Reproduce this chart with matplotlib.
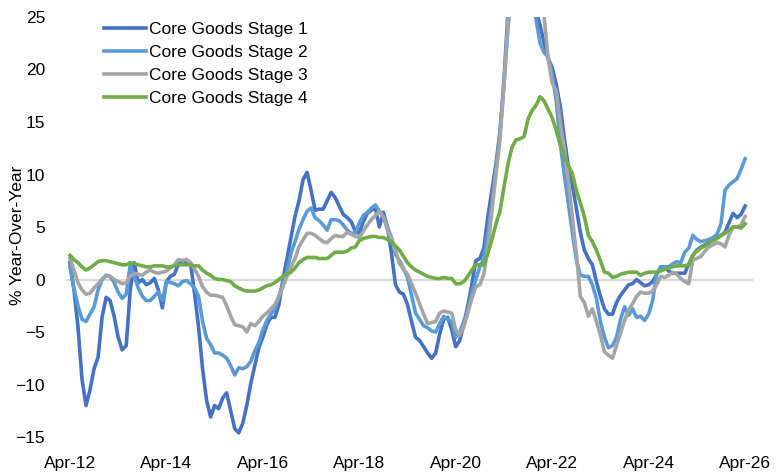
import matplotlib
matplotlib.use("Agg")
import matplotlib.pyplot as plt
import numpy as np

# monthly, Apr-12 .. Apr-26 (% y/y)
stage1 = [1.6, -1.0, -4.5, -9.5, -12.0, -10.5, -8.5, -7.4, -3.6, -1.7,
          -2.0, -3.5, -5.5, -6.7, -6.3, -1.0, 1.6, -0.3, 0.0, -0.5,
          -0.3, 0.1, -1.0, -2.7, -0.2, 0.3, 0.5, 1.5, 1.8, 1.7,
          1.6, -1.3, -4.5, -8.5, -11.5, -13.1, -12.0, -12.3, -11.3, -10.8,
          -12.5, -14.2, -14.6, -13.7, -12.0, -9.9, -8.2, -6.5, -5.5, -4.3,
          -3.6, -3.6, -2.4, 0.0, 2.0, 4.0, 6.0, 7.5, 9.5, 10.2,
          8.5, 6.6, 6.7, 6.7, 7.5, 8.3, 7.8, 7.0, 6.2, 5.9,
          5.5, 4.6, 4.4, 5.5, 6.3, 6.6, 6.8, 5.0, 6.4, 5.0,
          2.5, -0.5, -1.2, -1.4, -2.4, -4.0, -5.5, -5.8, -6.4, -7.0,
          -7.5, -7.0, -5.2, -3.8, -3.6, -4.8, -6.4, -5.8, -4.3, -2.5,
          -0.5, 1.8, 2.0, 3.0, 6.0, 8.5, 11.0, 14.0, 19.0, 25.5,
          29.0, 32.0, 34.0, 33.0, 31.0, 28.0, 25.5, 24.2, 22.5, 21.0,
          20.2, 18.6, 16.5, 13.5, 10.8, 9.0, 6.8, 4.5, 2.8, 2.0,
          1.4, -0.2, -1.6, -2.8, -3.3, -3.3, -2.2, -1.5, -1.0, -0.5,
          -0.4, 0.0, -0.3, -0.6, -0.5, -0.2, 0.5, 1.2, 1.2, 0.8,
          0.6, 0.6, 0.6, 0.6, 1.5, 2.3, 2.8, 3.1, 3.3, 3.5,
          3.9, 4.1, 4.2, 4.5, 5.4, 6.3, 5.9, 6.2, 7.0]

stage2 = [1.2, -0.8, -2.5, -3.8, -4.0, -3.3, -2.6, -1.0, 0.0, 0.4,
          0.3, -0.3, -1.2, -1.8, -1.4, 1.4, 0.3, -0.8, -1.6, -2.0,
          -2.0, -1.6, -1.2, -2.0, -0.2, -0.3, -0.4, -0.6, -0.2, -0.1,
          -0.4, -0.8, -1.6, -4.0, -5.6, -6.2, -7.0, -7.0, -7.2, -7.5,
          -8.2, -9.1, -8.4, -8.5, -8.3, -7.8, -6.8, -6.0, -4.8, -3.9,
          -3.3, -2.8, -1.6, -0.4, 0.8, 2.5, 3.6, 4.8, 5.7, 6.5,
          6.8, 5.9, 5.6, 5.2, 4.7, 5.7, 5.7, 5.6, 5.2, 4.7,
          4.4, 4.4, 5.4, 6.1, 6.4, 6.8, 7.1, 6.5, 6.0, 5.0,
          4.0, 2.4, 1.8, 1.0, 0.2, -1.5, -3.2, -3.8, -4.4, -4.6,
          -4.9, -5.0, -4.2, -3.5, -3.8, -4.0, -5.5, -5.0, -4.0, -2.9,
          -1.2, 0.0, 1.2, 2.0, 4.5, 7.3, 10.5, 14.0, 18.5, 24.0,
          28.0, 31.0, 33.0, 32.0, 30.0, 27.0, 24.7, 22.5, 21.6, 21.2,
          19.5, 17.0, 13.0, 10.0, 7.3, 4.5, 1.9, 0.4, 0.3, 0.3,
          -0.5, -1.8, -4.0, -5.5, -6.5, -6.3, -5.5, -3.8, -2.6, -3.4,
          -2.8, -3.6, -3.5, -3.9, -3.3, -2.0, 0.6, 1.1, 1.2, 1.2,
          1.5, 1.7, 1.6, 2.6, 3.0, 4.2, 3.8, 3.6, 3.7, 3.8,
          4.0, 4.3, 5.3, 8.5, 9.0, 9.3, 9.6, 10.5, 11.5]

stage3 = [2.0, 0.9, -0.3, -1.0, -1.4, -1.3, -0.8, -0.4, 0.0, 0.4,
          0.3, 0.0, -0.2, -0.4, -0.3, 0.3, 0.6, 0.5, 0.4, 0.7,
          0.9, 0.7, 0.6, 0.7, 0.8, 1.1, 1.4, 1.9, 1.8, 1.9,
          1.6, 1.0, 0.3, -0.7, -1.2, -1.5, -1.5, -1.6, -1.7, -2.5,
          -3.5, -4.3, -4.4, -4.5, -5.0, -4.2, -4.4, -4.0, -3.5, -3.2,
          -2.8, -2.4, -1.6, -0.7, 0.3, 1.2, 2.0, 3.1, 3.8, 4.4,
          4.4, 4.2, 3.9, 3.6, 3.5, 3.9, 4.2, 4.1, 4.1, 4.5,
          4.3, 4.1, 4.0, 4.6, 5.2, 5.7, 6.1, 6.5, 6.0, 4.7,
          3.8, 2.8, 1.5, 1.0, 0.5, -0.4, -1.3, -2.3, -3.3, -4.2,
          -4.1, -4.0, -3.2, -3.0, -3.1, -3.2, -4.8, -5.3, -4.5, -3.2,
          -1.8, -0.7, -0.5, 0.5, 3.1, 6.5, 10.0, 13.3, 18.5, 24.7,
          28.0, 31.0, 33.0, 32.5, 31.0, 29.0, 27.5, 26.0, 25.0, 21.0,
          18.7, 18.0, 15.0, 12.5, 9.5, 6.0, 2.5, -1.6, -2.2, -3.5,
          -2.8, -4.0, -5.3, -6.9, -7.2, -7.5, -6.3, -5.1, -3.9, -2.9,
          -2.3, -1.6, -1.2, -1.3, -1.3, -1.1, -0.5, 0.3, 0.2, 0.4,
          0.7, 0.5, 0.1, -0.2, -0.4, 1.9, 2.0, 2.2, 2.7, 3.1,
          3.3, 3.5, 3.4, 3.1, 4.2, 5.0, 5.0, 5.2, 6.0]

stage4 = [2.3, 1.9, 1.6, 1.2, 0.9, 1.1, 1.4, 1.7, 1.8, 1.8,
          1.7, 1.6, 1.5, 1.4, 1.4, 1.6, 1.5, 1.4, 1.3, 1.2,
          1.2, 1.3, 1.3, 1.3, 1.2, 1.2, 1.3, 1.4, 1.4, 1.4,
          1.4, 1.3, 1.3, 0.9, 0.6, 0.4, 0.1, 0.0, 0.0, -0.1,
          -0.2, -0.6, -0.8, -1.0, -1.1, -1.1, -1.1, -1.0, -0.8, -0.6,
          -0.5, -0.3, 0.0, 0.3, 0.5, 0.7, 1.1, 1.6, 1.9, 2.1,
          2.1, 2.1, 2.0, 2.0, 2.0, 2.3, 2.6, 2.6, 2.6, 2.7,
          3.0, 3.1, 3.7, 3.9, 4.0, 4.1, 4.1, 4.0, 4.0, 3.8,
          3.6, 3.2, 2.8, 2.2, 1.6, 1.2, 0.9, 0.7, 0.5, 0.3,
          0.2, 0.1, 0.1, 0.2, 0.1, 0.1, -0.4, -0.4, -0.2, 0.3,
          0.9, 1.4, 1.4, 1.4, 2.5, 3.8, 5.3, 6.5, 8.8, 11.0,
          12.6, 13.3, 13.4, 13.6, 15.3, 16.1, 16.6, 17.4, 17.0, 16.2,
          15.4, 14.2, 12.8, 11.7, 10.9, 10.1, 8.5, 7.3, 6.0, 4.2,
          3.6, 2.8, 1.8, 0.7, 0.6, 0.2, 0.3, 0.5, 0.6, 0.7,
          0.7, 0.7, 0.4, 0.6, 0.7, 0.7, 0.7, 0.8, 1.0, 1.1,
          1.2, 1.3, 1.3, 1.3, 1.4, 2.3, 2.7, 3.0, 3.2, 3.5,
          3.7, 3.9, 4.2, 4.4, 4.7, 5.0, 5.0, 4.9, 5.3]

tick_labels = ["Apr-12", "Apr-14", "Apr-16", "Apr-18",
               "Apr-20", "Apr-22", "Apr-24", "Apr-26"]
names = ["Core Goods Stage 1", "Core Goods Stage 2",
         "Core Goods Stage 3", "Core Goods Stage 4"]
colors = ["#4472C4", "#5B9BD5", "#A5A5A5", "#70AD47"]

plt.rcParams['font.family'] = ['Liberation Sans', 'DejaVu Sans']
plt.rcParams['font.size'] = 12.5

fig = plt.figure(figsize=(7.82, 4.76), dpi=100)
ax = fig.add_axes([0.0843, 0.0819, 0.8788, 0.8824])

months = np.arange(len(stage1))
ax.axhline(0, color="#d9d9d9", lw=1.5, zorder=1)
for vals, name, c in zip([stage1, stage2, stage3, stage4], names, colors):
    ax.plot(months, vals, color=c, lw=2.6, label=name, zorder=2)

ax.set_xlim(-1, 170)
ax.set_ylim(-15, 25)
ax.set_xticks(np.arange(0, 169, 24))
ax.set_xticklabels(tick_labels)
ax.set_yticks(np.arange(-15, 26, 5))
ax.tick_params(length=0)
ax.tick_params(axis='x', pad=14)
ax.tick_params(axis='y', pad=15)
for s in ax.spines.values():
    s.set_visible(False)
ax.set_ylabel("% Year-Over-Year")
ax.yaxis.set_label_coords(-0.060, 0.48)

ax.legend(loc="upper left", bbox_to_anchor=(104 / 782, 1 - 22 / 476),
          bbox_transform=fig.transFigure, frameon=False, borderpad=0,
          borderaxespad=0, handlelength=2.4, handletextpad=0.2,
          labelspacing=0.45)

fig.savefig("out.png", dpi=100)
